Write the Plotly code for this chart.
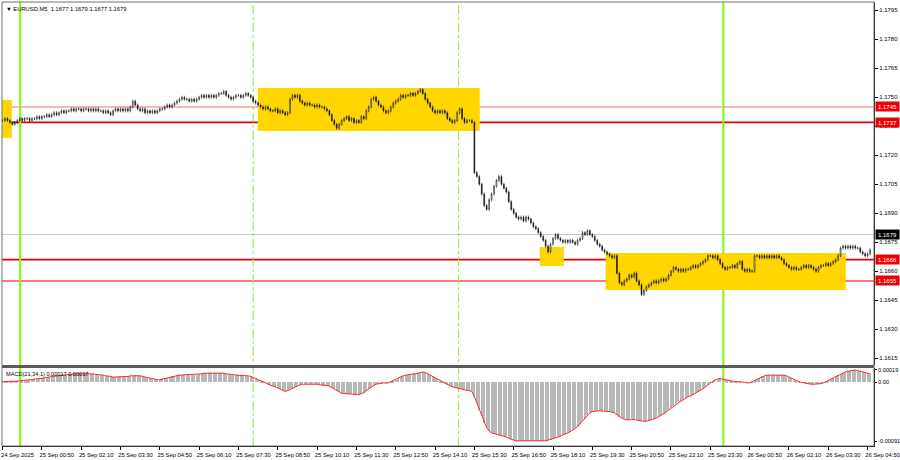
import plotly.graph_objects as go

# ---------------- data ----------------
closes = [
    1.1738, 1.1739, 1.1738, 1.1737, 1.1736,
    1.1737, 1.1738, 1.1739, 1.1738, 1.1739,
    1.1739, 1.1738, 1.1739, 1.1739, 1.1740,
    1.1739, 1.1740, 1.1740, 1.1741, 1.1740,
    1.1741, 1.1742, 1.1741, 1.1742, 1.1743,
    1.1742, 1.1743, 1.1743, 1.1744, 1.1743,
    1.1744, 1.1744, 1.1743, 1.1744, 1.1744,
    1.1743, 1.1744, 1.1743, 1.1744, 1.1743,
    1.1743, 1.1742, 1.1743, 1.1742, 1.1741,
    1.1743, 1.1744, 1.1743, 1.1744, 1.1743,
    1.1744, 1.1743, 1.1745, 1.1748, 1.1746,
    1.1744, 1.1743, 1.1744, 1.1742, 1.1743,
    1.1742, 1.1743, 1.1742, 1.1743, 1.1744,
    1.1744, 1.1745, 1.1746, 1.1745, 1.1746,
    1.1747, 1.1748, 1.1749, 1.1750, 1.1749,
    1.1749, 1.1748, 1.1749, 1.1748, 1.1749,
    1.1750, 1.1751, 1.1750, 1.1751, 1.1750,
    1.1751, 1.1750, 1.1751, 1.1752, 1.1752,
    1.1753, 1.1751, 1.1750, 1.1749, 1.1750,
    1.1751, 1.1751, 1.1750, 1.1751, 1.1752,
    1.1751, 1.1750, 1.1748, 1.1747, 1.1746,
    1.1745, 1.1744, 1.1745, 1.1744, 1.1743,
    1.1743, 1.1744, 1.1742, 1.1743, 1.1742,
    1.1741, 1.1742, 1.1749, 1.1751, 1.1750,
    1.1751, 1.1748, 1.1747, 1.1746, 1.1747,
    1.1746, 1.1746, 1.1745, 1.1746, 1.1745,
    1.1745, 1.1744, 1.1743, 1.1741, 1.1738,
    1.1736, 1.1734, 1.1736, 1.1738, 1.1739,
    1.1740, 1.1738, 1.1739, 1.1737, 1.1738,
    1.1737, 1.1740, 1.1739, 1.1743, 1.1745,
    1.1749, 1.1750, 1.1748, 1.1746, 1.1745,
    1.1743, 1.1742, 1.1743, 1.1745, 1.1747,
    1.1748, 1.1749, 1.1751, 1.1750, 1.1751,
    1.1751, 1.1752, 1.1751, 1.1752, 1.1753,
    1.1754, 1.1752, 1.1749, 1.1747, 1.1745,
    1.1743, 1.1742, 1.1743, 1.1742, 1.1743,
    1.1742, 1.1739, 1.1738, 1.1737, 1.1738,
    1.1742, 1.1744, 1.1739, 1.1737, 1.1738,
    1.1738, 1.1737, 1.1711, 1.1709, 1.1705,
    1.1700, 1.1694, 1.1692, 1.1697, 1.1700,
    1.1704, 1.1707, 1.1709, 1.1705, 1.1703,
    1.1701, 1.1696, 1.1692, 1.1690, 1.1688,
    1.1687, 1.1688, 1.1686, 1.1688, 1.1687,
    1.1685, 1.1683, 1.1682, 1.1680, 1.1678,
    1.1676, 1.1673, 1.1670, 1.1674, 1.1677,
    1.1679, 1.1677, 1.1676, 1.1675, 1.1676,
    1.1675, 1.1676, 1.1675, 1.1674, 1.1676,
    1.1677, 1.1680, 1.1679, 1.1681, 1.1679,
    1.1678, 1.1676, 1.1674, 1.1673, 1.1671,
    1.1670, 1.1669, 1.1668, 1.1667, 1.1668,
    1.1659, 1.1654, 1.1653, 1.1655, 1.1656,
    1.1658, 1.1657, 1.1659, 1.1655, 1.1653,
    1.1648, 1.1650, 1.1652, 1.1653, 1.1654,
    1.1655, 1.1654, 1.1655, 1.1656, 1.1655,
    1.1656, 1.1658, 1.1660, 1.1662, 1.1661,
    1.1660, 1.1661, 1.1660, 1.1661, 1.1661,
    1.1662, 1.1663, 1.1662, 1.1663, 1.1664,
    1.1665, 1.1666, 1.1668, 1.1668, 1.1667,
    1.1668, 1.1666, 1.1664, 1.1662, 1.1661,
    1.1662, 1.1662, 1.1663, 1.1662, 1.1664,
    1.1665, 1.1661, 1.1660, 1.1661, 1.1660,
    1.1660, 1.1668, 1.1668, 1.1667, 1.1668,
    1.1667, 1.1668, 1.1667, 1.1668, 1.1667,
    1.1668, 1.1667, 1.1666, 1.1664, 1.1663,
    1.1662, 1.1661, 1.1662, 1.1661, 1.1661,
    1.1662, 1.1663, 1.1662, 1.1663, 1.1662,
    1.1661, 1.1660, 1.1662, 1.1663, 1.1663,
    1.1664, 1.1663, 1.1664, 1.1665, 1.1666,
    1.1668, 1.1672, 1.1673, 1.1672, 1.1673,
    1.1672, 1.1673, 1.1672, 1.1672, 1.1670,
    1.1669, 1.1668, 1.1669, 1.1671,
]
first_open = 1.1738

# MACD(21,34,1) histogram / signal, in units of 0.00001
macd_pts = [
    1, 1, 1, 2, 2,
    2, 2, 2, 3, 3,
    3, 3, 4, 5, 5,
    6, 6, 7, 7, 8,
    9, 9, 10, 10, 11,
    11, 12, 12, 12, 13,
    13, 13, 13, 14, 14,
    13, 13, 13, 12, 12,
    11, 11, 10, 10, 9,
    8, 8, 8, 9, 9,
    9, 9, 10, 10, 11,
    11, 10, 9, 8, 7,
    6, 5, 5, 4, 4,
    5, 6, 7, 8, 9,
    10, 11, 11, 11, 12,
    12, 12, 12, 12, 12,
    13, 13, 14, 14, 14,
    15, 15, 15, 14, 14,
    14, 13, 13, 12, 12,
    11, 11, 11, 11, 10,
    10, 9, 8, 6, 4,
    3, 1, -1, -3, -4,
    -6, -7, -9, -10, -12,
    -14, -13, -11, -9, -7,
    -5, -4, -3, -3, -2,
    -2, -2, -3, -3, -4,
    -4, -5, -5, -6, -8,
    -10, -13, -15, -17, -17,
    -18, -18, -18, -19, -19,
    -19, -18, -16, -13, -10,
    -7, -5, -3, -2, -2,
    -1, -1, -1, 1, 3,
    4, 6, 8, 10, 11,
    12, 12, 13, 13, 14,
    15, 16, 15, 13, 11,
    9, 7, 5, 3, 1,
    -2, -4, -6, -7, -8,
    -9, -10, -10, -11, -12,
    -13, -14, -22, -32, -42,
    -52, -62, -70, -75, -78,
    -79, -80, -81, -81, -82,
    -84, -86, -88, -89, -90,
    -90, -91, -91, -91, -91,
    -91, -91, -91, -90, -91,
    -91, -90, -89, -88, -87,
    -86, -84, -83, -81, -80,
    -78, -76, -74, -71, -68,
    -64, -60, -56, -51, -47,
    -45, -44, -44, -44, -44,
    -44, -44, -45, -46, -47,
    -50, -53, -55, -57, -58,
    -58, -57, -57, -58, -59,
    -60, -60, -60, -59, -58,
    -56, -55, -53, -51, -49,
    -46, -43, -40, -37, -34,
    -31, -29, -27, -24, -22,
    -21, -19, -17, -15, -13,
    -10, -7, -4, -1, 2,
    4, 5, 6, 5, 4,
    3, 2, 2, 1, 1,
    1, 0, 0, -1, -1,
    1, 3, 5, 7, 9,
    10, 11, 11, 12, 12,
    12, 12, 12, 11, 10,
    8, 6, 4, 2, 1,
    0, -1, -2, -3, -3,
    -3, -3, -2, -2, -1,
    1, 3, 5, 7, 9,
    11, 13, 15, 16, 17,
    18, 19, 19, 18, 17,
    16, 15, 14, 13,
]

time_labels = [
    "24 Sep 2025", "25 Sep 00:50", "25 Sep 02:10", "25 Sep 03:30", "25 Sep 04:50",
    "25 Sep 06:10", "25 Sep 07:30", "25 Sep 08:50", "25 Sep 10:10", "25 Sep 11:30",
    "25 Sep 12:50", "25 Sep 14:10", "25 Sep 15:30", "25 Sep 16:50", "25 Sep 18:10",
    "25 Sep 19:30", "25 Sep 20:50", "25 Sep 22:10", "25 Sep 23:30", "26 Sep 00:50",
    "26 Sep 02:10", "26 Sep 03:30", "26 Sep 04:50",
]
label_every = 16  # one time label every 16 M5 bars

price_ticks = [1.1795, 1.1780, 1.1765, 1.1750, 1.1735, 1.1720, 1.1705,
               1.1690, 1.1675, 1.1660, 1.1645, 1.1630, 1.1615]
macd_ticks = [19, 0, -91]
macd_tick_text = ["0.00019", "0.00", "-0.00091"]

levels = [1.1745, 1.1737, 1.1666, 1.1655]
bid_price = 1.1679

# yellow zones: bar start, bar end, price low, price high
zone_start = [-1.0, 103.9, 218.6, 245.4]
zone_end = [3.8, 194.2, 228.4, 343.1]
zone_low = [1.17290, 1.17326, 1.16628, 1.16503]
zone_high = [1.17486, 1.17548, 1.16726, 1.16695]

day_lines = [7.2, 293.3]        # solid green verticals (bar positions)
session_lines = [102.0, 185.6]  # dash-dot green verticals (bar positions)

title_text = "▼ EURUSD,M5  1.1677 1.1679 1.1677 1.1679"
macd_text = "MACD(21,34,1) 0.00017 0.00017"

# ---------------- derived ----------------
n = len(closes)
bars = list(range(n))
opens = [first_open] + closes[:-1]
wick = 0.00008
highs = [max(o, c) + wick for o, c in zip(opens, closes)]
lows = [min(o, c) - wick for o, c in zip(opens, closes)]
tick_bars = list(range(0, n, label_every))[:len(time_labels)]

FONT = "Liberation Sans"
FS = 6

fig = go.Figure()

fig.add_trace(go.Candlestick(
    x=bars, open=opens, high=highs, low=lows, close=closes,
    increasing=dict(line=dict(color="#1A1A1A", width=0.6), fillcolor="#FFFFFF"),
    decreasing=dict(line=dict(color="#1A1A1A", width=0.6), fillcolor="#000000"),
    whiskerwidth=0, xaxis="x", yaxis="y", hoverinfo="skip", showlegend=False,
))

fig.add_trace(go.Bar(
    x=bars, y=macd_pts, marker=dict(color="#B8B8B8", line=dict(width=0)),
    width=0.45, xaxis="x", yaxis="y2", hoverinfo="skip", showlegend=False,
))
fig.add_trace(go.Scatter(
    x=bars, y=macd_pts, mode="lines", line=dict(color="#FF2A2A", width=1),
    xaxis="x", yaxis="y2", hoverinfo="skip", showlegend=False,
))

shapes = []
for x0, x1, y0, y1 in zip(zone_start, zone_end, zone_low, zone_high):
    shapes.append(dict(type="rect", xref="x", yref="y", x0=x0, x1=x1, y0=y0, y1=y1,
                       fillcolor="#FFD600", line=dict(width=0), layer="below"))

level_colors = ["#F4A0A0", "#E60000", "#E60000", "#FF4A4A"]
for lv, col in zip(levels, level_colors):
    shapes.append(dict(type="line", xref="paper", yref="y", x0=0, x1=1, y0=lv, y1=lv,
                       line=dict(color=col, width=1.6), layer="below"))
shapes.append(dict(type="line", xref="paper", yref="y", x0=0, x1=1, y0=bid_price, y1=bid_price,
                   line=dict(color="#C8C8C8", width=1), layer="below"))

for xv in day_lines:
    shapes.append(dict(type="line", xref="x", yref="paper", x0=xv, x1=xv, y0=0, y1=1,
                       line=dict(color="#7CFC00", width=2), layer="below"))
for xv in session_lines:
    shapes.append(dict(type="line", xref="x", yref="paper", x0=xv, x1=xv, y0=0, y1=1,
                       line=dict(color="#8EE53F", width=1, dash="dashdot"), layer="below"))

# panel separator and frame
shapes.append(dict(type="rect", xref="paper", yref="paper", x0=0, x1=1, y0=0.1757, y1=0.1824,
                   fillcolor="#5A5A5A", line=dict(width=0)))
shapes.append(dict(type="rect", xref="paper", yref="paper", x0=0, x1=1, y0=0, y1=1,
                   fillcolor="rgba(0,0,0,0)", line=dict(color="#707070", width=1)))

annotations = []
for lv in levels:
    annotations.append(dict(xref="paper", yref="y", x=1, y=lv, xanchor="left", yanchor="middle",
                            xshift=1, text=f"{lv:.4f}", showarrow=False, bgcolor="#F00000",
                            width=23, height=9, align="center",
                            font=dict(family=FONT, size=FS, color="#FFFFFF"), borderpad=0))
annotations.append(dict(xref="paper", yref="y", x=1, y=bid_price, xanchor="left", yanchor="middle",
                        xshift=1, text=f"{bid_price:.4f}", showarrow=False, bgcolor="#000000",
                        width=23, height=9, align="center",
                        font=dict(family=FONT, size=FS, color="#FFFFFF"), borderpad=0))
annotations.append(dict(xref="paper", yref="paper", x=0, y=1, xanchor="left", yanchor="top",
                        xshift=2, yshift=-2, text=title_text, showarrow=False,
                        font=dict(family=FONT, size=5.8, color="#000000")))
annotations.append(dict(xref="paper", yref="paper", x=0, y=0.1757, xanchor="left", yanchor="top",
                        xshift=2, yshift=-1, text=macd_text, showarrow=False,
                        font=dict(family=FONT, size=5.6, color="#000000")))

fig.update_layout(
    width=900, height=460,
    margin=dict(l=2, r=26, t=2, b=14, autoexpand=False),
    paper_bgcolor="#FFFFFF", plot_bgcolor="#FFFFFF",
    showlegend=False, bargap=0, boxgap=0.5,
    font=dict(family=FONT, size=FS, color="#000000"),
    xaxis=dict(
        domain=[0, 1], anchor="y2", range=[-0.2, 354.6],
        tickvals=tick_bars, ticktext=time_labels, tickangle=0,
        ticks="outside", ticklen=3, tickcolor="#000000", tickwidth=1,
        tickfont=dict(family=FONT, size=5.8),
        ticklabelshift=15, ticklabelstandoff=0, ticklabeloverflow="allow",
        automargin=False,
        showgrid=False, zeroline=False, showline=True, linecolor="#000000",
        rangeslider=dict(visible=False),
    ),
    yaxis=dict(
        domain=[0.1824, 1], anchor="x", side="right", range=[1.16115, 1.17993],
        tickvals=price_ticks, ticktext=[f"{v:.4f}" for v in price_ticks],
        ticks="outside", ticklen=3, tickcolor="#000000", automargin=False,
        tickfont=dict(family=FONT, size=FS), ticklabeloverflow="allow",
        showgrid=False, zeroline=False, showline=True, linecolor="#000000",
    ),
    yaxis2=dict(
        domain=[0, 0.1757], anchor="x", side="right", range=[-98, 22],
        tickvals=macd_ticks, ticktext=macd_tick_text, automargin=False,
        ticks="outside", ticklen=2, tickcolor="#000000", ticklabeloverflow="allow",
        tickfont=dict(family=FONT, size=5.6),
        showgrid=False, zeroline=False, showline=True, linecolor="#000000",
    ),
    shapes=shapes, annotations=annotations,
)

fig.write_html(
    "out.html",
    config={"displayModeBar": False},
    post_script="document.body.style.margin='0px';document.body.style.overflow='hidden';",
)
